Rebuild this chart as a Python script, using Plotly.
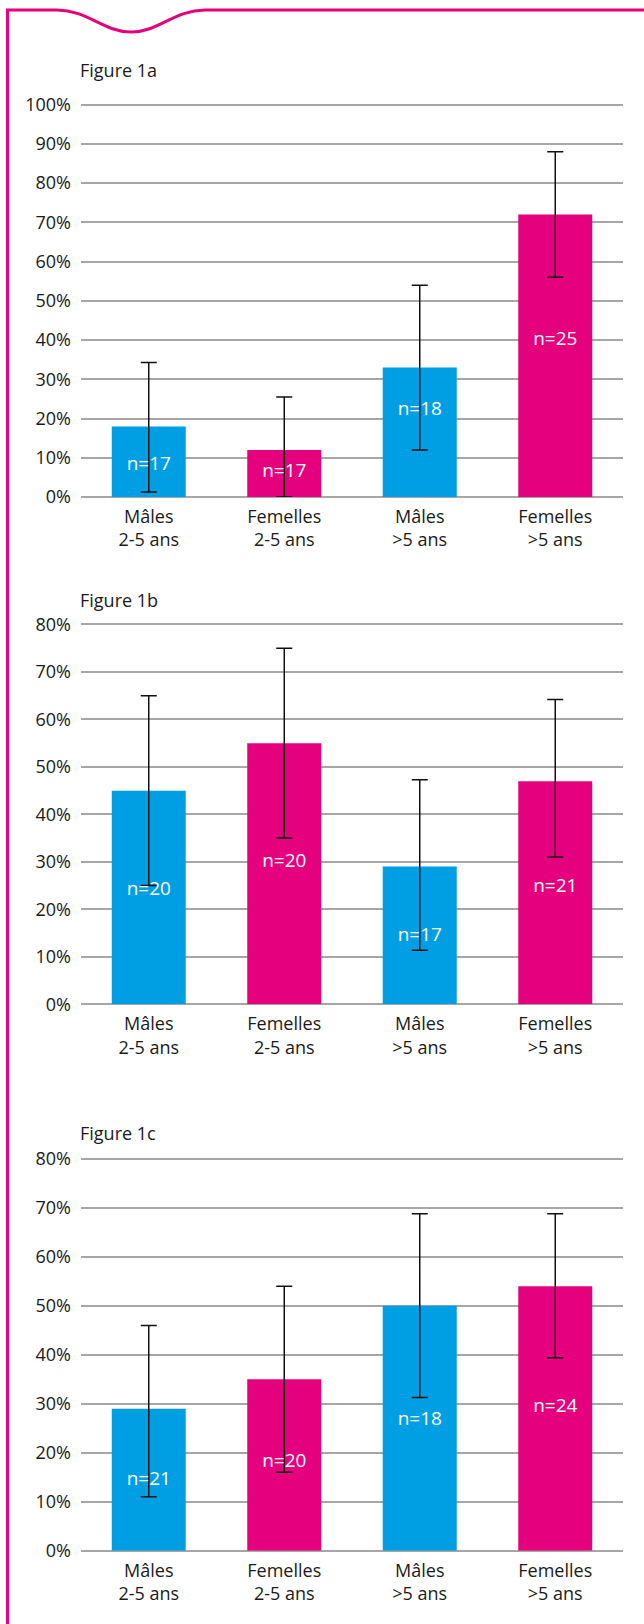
import plotly.graph_objects as go

W, H = 644, 1624

categories = ["Mâles<br>2-5 ans", "Femelles<br>2-5 ans", "Mâles<br>>5 ans", "Femelles<br>>5 ans"]
bar_colors = ["#009FE3", "#E5007D", "#009FE3", "#E5007D"]

# Figure 1a
vals_a = [18, 12, 33, 72]
upper_a = [34.3, 25.5, 54, 88]
lower_a = [1.3, 0, 12, 56]
n_a = ["n=17", "n=17", "n=18", "n=25"]
npos_a = [8, 6.3, 22, 40]

# Figure 1b
vals_b = [45, 55, 29, 47]
upper_b = [65, 75, 47.3, 64.2]
lower_b = [25, 35, 11.4, 31]
n_b = ["n=20", "n=20", "n=17", "n=21"]
npos_b = [24, 30, 14.4, 24.7]

# Figure 1c
vals_c = [29, 35, 50, 54]
upper_c = [46, 54, 68.8, 68.8]
lower_c = [11, 16, 31.3, 39.4]
n_c = ["n=21", "n=20", "n=18", "n=24"]
npos_c = [14.4, 18, 26.6, 29.2]

titles = ["Figure 1a", "Figure 1b", "Figure 1c"]
ymax = [100, 80, 80]

FONT = "Open Sans"
TXT = "#1a1a1a"
PINK = "#E5007D"

panels = [
    (vals_a, upper_a, lower_a, n_a, npos_a),
    (vals_b, upper_b, lower_b, n_b, npos_b),
    (vals_c, upper_c, lower_c, n_c, npos_c),
]

# pixel layout of panels (top, bottom of plot area) and title centre
px_panels = [(103.5, 497.0, 70), (623.3, 1004.3, 600), (1157.7, 1550.7, 1133)]
x0px, x1px = 81, 623

def py(p):
    return 1 - p / H

def px(p):
    return p / W

fig = go.Figure()
layout = dict(
    width=W, height=H,
    margin=dict(l=0, r=0, t=0, b=0, pad=0),
    paper_bgcolor="white", plot_bgcolor="white",
    showlegend=False,
    bargap=0.454,
    font=dict(family=FONT, size=18, color=TXT),
)
annotations = []

for i, (vals, up, lo, ns, npos) in enumerate(panels):
    sfx = "" if i == 0 else str(i + 1)
    xa, ya = "x" + sfx, "y" + sfx
    fig.add_trace(go.Bar(
        x=categories, y=vals, xaxis=xa, yaxis=ya,
        marker=dict(color=bar_colors, line=dict(width=0)),
        error_y=dict(type="data", symmetric=False,
                     array=[u - v for u, v in zip(up, vals)],
                     arrayminus=[v - l for v, l in zip(vals, lo)],
                     color="#111111", thickness=1.5, width=8),
        hoverinfo="skip",
    ))
    fig.add_trace(go.Scatter(
        x=categories, y=npos, xaxis=xa, yaxis=ya, mode="text", text=ns,
        textfont=dict(family=FONT, size=19, color="white"),
        textposition="middle center", hoverinfo="skip",
    ))
    top, bot, tcy = px_panels[i]
    layout["xaxis" + sfx] = dict(
        domain=[px(x0px), px(x1px)], anchor=ya, automargin=False,
        showgrid=False, zeroline=False, showline=False, ticks="",
        tickfont=dict(family=FONT, size=18, color=TXT),
        ticklabelstandoff=7, fixedrange=True,
    )
    layout["yaxis" + sfx] = dict(
        domain=[py(bot), py(top)], anchor=xa, automargin=False,
        range=[0, ymax[i] * 1.003], tickvals=list(range(0, ymax[i] + 1, 10)),
        ticktext=[f"{v}%" for v in range(0, ymax[i] + 1, 10)],
        showgrid=True, gridcolor="#a6a6a6", gridwidth=1.5,
        zeroline=True, zerolinecolor="#a6a6a6", zerolinewidth=1.5,
        showline=False, ticks="",
        tickfont=dict(family=FONT, size=18, color=TXT),
        ticklabelstandoff=9, fixedrange=True,
    )
    annotations.append(dict(
        text=titles[i], xref="paper", yref="paper",
        x=px(78), y=py(tcy), xanchor="left", yanchor="middle",
        showarrow=False, font=dict(family=FONT, size=18, color=TXT),
    ))

layout["annotations"] = annotations

# decorative frame: left border + top border with a wave
def pt(x, y):
    return f"{px(x):.5f},{py(y):.5f}"

path = (
    f"M {pt(7.5, H + 5)} L {pt(7.5, 10)} L {pt(57, 10)} "
    f"C {pt(88, 10)} {pt(103, 32)} {pt(131, 32)} "
    f"C {pt(159, 32)} {pt(174, 10)} {pt(205, 10)} "
    f"L {pt(W + 5, 10)}"
)
layout["shapes"] = [dict(type="path", path=path, xref="paper", yref="paper",
                         line=dict(color=PINK, width=3), fillcolor="rgba(0,0,0,0)")]

fig.update_layout(**layout)
fig.write_html("out.html")
